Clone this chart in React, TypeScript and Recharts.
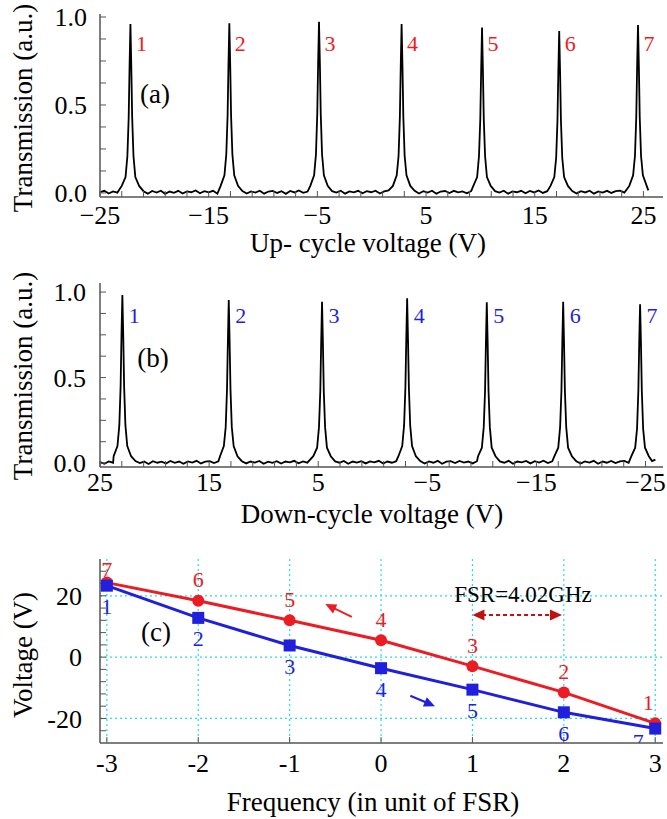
import React from 'react';
import { ComposedChart, LineChart, Line, Scatter, XAxis, YAxis, CartesianGrid, ReferenceLine } from 'recharts';

const FONT = 'Liberation Serif, "Liberation Serif", DejaVu Serif, "Noto Serif", Times New Roman, serif';
const RED = '#ec1c24';
const BLUE = '#1f1fdc';
const DARKRED = '#c01010';
const BOX = '#555555';

// ---------- Panel (a): up-cycle transmission trace [voltage, transmission] ----------
const upCycleTrace: [number, number][] = [
  [-25.0, 0.004], [-24.6, 0.012], [-24.2, -0.003], [-23.8, 0.009], [-23.4, 0.002],
  [-23.0, 0.04], [-22.65, 0.09], [-22.48, 0.21], [-22.36, 0.43], [-22.28, 0.72], [-22.2, 0.96], [-22.12, 0.72], [-22.04, 0.43], [-21.92, 0.21], [-21.75, 0.09], [-21.4, 0.04],
  [-21.0, 0.01], [-20.6, -0.004], [-20.2, 0.011], [-19.8, 0.002], [-19.4, 0.013], [-19.0, -0.005], [-18.6, 0.008], [-18.2, 0.001], [-17.8, 0.012], [-17.4, -0.003], [-17.0, 0.009], [-16.6, 0.004], [-16.2, 0.014], [-15.8, -0.002], [-15.4, 0.01], [-15.0, 0.003], [-14.6, 0.012], [-14.2, -0.004],
  [-13.9, 0.04], [-13.55, 0.1], [-13.38, 0.22], [-13.26, 0.44], [-13.18, 0.73], [-13.1, 0.964], [-13.02, 0.73], [-12.94, 0.44], [-12.82, 0.22], [-12.65, 0.1], [-12.3, 0.04],
  [-11.9, 0.011], [-11.5, -0.003], [-11.1, 0.009], [-10.7, 0.002], [-10.3, 0.013], [-9.9, -0.004], [-9.5, 0.008], [-9.1, 0.012], [-8.7, 0.0], [-8.3, 0.01], [-7.9, -0.005], [-7.5, 0.011], [-7.1, 0.003], [-6.7, 0.014], [-6.3, 0.001], [-5.9, 0.008],
  [-5.65, 0.04], [-5.3, 0.1], [-5.13, 0.22], [-5.01, 0.45], [-4.93, 0.74], [-4.85, 0.973], [-4.77, 0.74], [-4.69, 0.45], [-4.57, 0.22], [-4.4, 0.1], [-4.05, 0.04],
  [-3.65, 0.01], [-3.25, 0.002], [-2.85, 0.013], [-2.45, -0.004], [-2.05, 0.009], [-1.65, 0.003], [-1.25, 0.012], [-0.85, -0.002], [-0.45, 0.01], [-0.05, 0.004], [0.35, 0.013], [0.75, -0.003], [1.15, 0.009], [1.55, 0.014],
  [1.95, 0.04], [2.3, 0.1], [2.47, 0.21], [2.59, 0.43], [2.67, 0.72], [2.75, 0.96], [2.83, 0.72], [2.91, 0.43], [3.03, 0.21], [3.2, 0.1], [3.55, 0.04],
  [3.95, 0.012], [4.35, -0.003], [4.75, 0.01], [5.15, 0.002], [5.55, 0.013], [5.95, -0.004], [6.35, 0.008], [6.75, 0.011], [7.15, 0.0], [7.55, 0.012], [7.95, 0.003], [8.35, 0.009], [8.75, -0.002], [9.15, 0.011],
  [9.35, 0.04], [9.7, 0.09], [9.87, 0.21], [9.99, 0.42], [10.07, 0.7], [10.15, 0.94], [10.23, 0.7], [10.31, 0.42], [10.43, 0.21], [10.6, 0.09], [10.95, 0.04],
  [11.35, 0.01], [11.75, 0.002], [12.15, 0.013], [12.55, -0.004], [12.95, 0.009], [13.35, 0.004], [13.75, 0.012], [14.15, -0.002], [14.55, 0.011], [14.95, 0.003], [15.35, 0.014], [15.75, 0.0], [16.15, 0.01],
  [16.45, 0.04], [16.8, 0.09], [16.97, 0.2], [17.09, 0.41], [17.17, 0.69], [17.25, 0.92], [17.33, 0.69], [17.41, 0.41], [17.53, 0.2], [17.7, 0.09], [18.05, 0.04],
  [18.45, 0.011], [18.85, -0.003], [19.25, 0.01], [19.65, 0.003], [20.05, 0.013], [20.45, -0.004], [20.85, 0.009], [21.25, 0.002], [21.65, 0.012], [22.05, 0.0], [22.45, 0.01], [22.85, 0.013], [23.25, 0.002],
  [23.7, 0.04], [24.05, 0.1], [24.22, 0.21], [24.34, 0.43], [24.42, 0.72], [24.5, 0.954], [24.58, 0.72], [24.66, 0.43], [24.78, 0.21], [24.95, 0.1], [25.3, 0.04],
  [25.45, 0.015],
];
const upPeakVoltages = [-22.2, -13.1, -4.85, 2.75, 10.15, 17.25, 24.5];
const upPeakLabels = ['1', '2', '3', '4', '5', '6', '7'];

// ---------- Panel (b): down-cycle transmission trace [voltage, transmission] ----------
const downCycleTrace: [number, number][] = [
  [25.0, 0.006], [24.6, -0.004], [24.2, 0.01], [23.8, 0.002],
  [23.75, 0.04], [23.4, 0.1], [23.23, 0.22], [23.11, 0.45], [23.03, 0.75], [22.95, 0.982], [22.87, 0.75], [22.79, 0.45], [22.67, 0.22], [22.5, 0.1], [22.15, 0.04],
  [21.75, 0.012], [21.35, 0.0], [20.95, 0.009], [20.55, -0.005], [20.15, 0.011], [19.75, 0.002], [19.35, 0.008], [18.95, -0.003], [18.55, 0.012], [18.15, 0.001], [17.75, 0.009], [17.35, -0.004], [16.95, 0.01], [16.55, 0.003], [16.15, 0.013], [15.75, -0.002], [15.35, 0.008], [14.95, 0.011], [14.55, 0.0], [14.15, 0.01],
  [14.0, 0.04], [13.65, 0.1], [13.48, 0.21], [13.36, 0.43], [13.28, 0.71], [13.2, 0.953], [13.12, 0.71], [13.04, 0.43], [12.92, 0.21], [12.75, 0.1], [12.4, 0.04],
  [12.0, 0.011], [11.6, -0.002], [11.2, 0.009], [10.8, 0.003], [10.4, 0.012], [10.0, -0.004], [9.6, 0.008], [9.2, 0.001], [8.8, 0.011], [8.4, -0.003], [8.0, 0.009], [7.6, 0.004], [7.2, 0.013], [6.8, -0.001], [6.4, 0.01], [6.0, 0.002],
  [5.45, 0.04], [5.1, 0.09], [4.93, 0.21], [4.81, 0.42], [4.73, 0.7], [4.65, 0.943], [4.57, 0.7], [4.49, 0.42], [4.37, 0.21], [4.2, 0.09], [3.85, 0.04],
  [3.45, 0.01], [3.05, 0.002], [2.65, 0.012], [2.25, -0.004], [1.85, 0.009], [1.45, 0.003], [1.05, 0.011], [0.65, -0.002], [0.25, 0.01], [-0.15, 0.004], [-0.55, 0.013], [-0.95, -0.003], [-1.35, 0.009], [-1.75, 0.002], [-2.15, 0.011],
  [-2.35, 0.04], [-2.7, 0.1], [-2.87, 0.22], [-2.99, 0.44], [-3.07, 0.72], [-3.15, 0.963], [-3.23, 0.72], [-3.31, 0.44], [-3.43, 0.22], [-3.6, 0.1], [-3.95, 0.04],
  [-4.35, 0.012], [-4.75, -0.003], [-5.15, 0.01], [-5.55, 0.002], [-5.95, 0.013], [-6.35, -0.004], [-6.75, 0.008], [-7.15, 0.011], [-7.55, 0.0], [-7.95, 0.012], [-8.35, 0.003], [-8.75, 0.009], [-9.15, -0.002], [-9.55, 0.011],
  [-9.65, 0.04], [-10.0, 0.09], [-10.17, 0.21], [-10.29, 0.42], [-10.37, 0.7], [-10.45, 0.94], [-10.53, 0.7], [-10.61, 0.42], [-10.73, 0.21], [-10.9, 0.09], [-11.25, 0.04],
  [-11.65, 0.01], [-12.05, 0.002], [-12.45, 0.013], [-12.85, -0.004], [-13.25, 0.009], [-13.65, 0.004], [-14.05, 0.012], [-14.45, -0.002], [-14.85, 0.011], [-15.25, 0.003], [-15.65, 0.014], [-16.05, 0.0], [-16.45, 0.01],
  [-16.65, 0.04], [-17.0, 0.09], [-17.17, 0.21], [-17.29, 0.42], [-17.37, 0.7], [-17.45, 0.943], [-17.53, 0.7], [-17.61, 0.42], [-17.73, 0.21], [-17.9, 0.09], [-18.25, 0.04],
  [-18.65, 0.011], [-19.05, -0.003], [-19.45, 0.01], [-19.85, 0.003], [-20.25, 0.013], [-20.65, -0.004], [-21.05, 0.009], [-21.45, 0.002], [-21.85, 0.012], [-22.25, 0.0], [-22.65, 0.01], [-23.05, 0.013], [-23.45, 0.002],
  [-23.7, 0.04], [-24.05, 0.09], [-24.22, 0.2], [-24.34, 0.42], [-24.42, 0.7], [-24.5, 0.928], [-24.58, 0.7], [-24.66, 0.42], [-24.78, 0.2], [-24.95, 0.09], [-25.3, 0.04],
  [-25.6, 0.012], [-25.9, 0.02],
];
const downPeakVoltages = [22.95, 13.2, 4.65, -3.15, -10.45, -17.45, -24.5];
const downPeakLabels = ['1', '2', '3', '4', '5', '6', '7'];

// ---------- Panel (c): voltage vs frequency ----------
const frequencies = [-3, -2, -1, 0, 1, 2, 3];
const upCycleVoltages = [24.3, 18.4, 12.0, 5.5, -2.95, -11.5, -21.6];
const upCycleOrder = ['7', '6', '5', '4', '3', '2', '1'];
const downCycleVoltages = [23.3, 12.8, 3.8, -3.6, -10.6, -18.0, -23.3];
const downCycleOrder = ['1', '2', '3', '4', '5', '6', '7'];

// ---------- Tick values ----------
const voltageTicks = [-25, -23, -21, -19, -17, -15, -13, -11, -9, -7, -5, -3, -1, 1, 3, 5, 7, 9, 11, 13, 15, 17, 19, 21, 23, 25];
const voltageMajor = [-25, -15, -5, 5, 15, 25];
const transmissionTicks = [0, 0.125, 0.25, 0.375, 0.5, 0.625, 0.75, 0.875, 1];
const transmissionMajor = [0, 0.5, 1];
const freqTicks = [-3, -2, -1, 0, 1, 2, 3];
const voltTicksC = [-24, -20, -16, -12, -8, -4, 0, 4, 8, 12, 16, 20, 24, 28];
const voltMajorC = [-20, 0, 20];

const upData = upCycleTrace.map(([v, t]) => ({ v, t }));
const downData = downCycleTrace.map(([v, t]) => ({ v, t }));
const upPeaks = upPeakVoltages.map((v, i) => ({ v, t: 0.852, n: upPeakLabels[i] }));
const downPeaks = downPeakVoltages.map((v, i) => ({ v, t: 0.865, n: downPeakLabels[i] }));
const cData = frequencies.map((f, i) => ({
  f, up: upCycleVoltages[i], down: downCycleVoltages[i], upN: upCycleOrder[i], downN: downCycleOrder[i],
}));

const fmtVoltage = (v: number) => (voltageMajor.includes(v) ? (v < 0 ? '\u2212' + Math.abs(v) : String(v)) : '');
const fmtTrans = (v: number) => (transmissionMajor.includes(v) ? v.toFixed(1) : '');
const fmtVoltC = (v: number) => (voltMajorC.includes(v) ? String(v) : '');
const empty = () => '';

const tickStyle = { fontSize: 26, fill: '#000', fontFamily: FONT };
const axisLine = { stroke: BOX, strokeWidth: 1.5 };
const tickLine = { stroke: BOX, strokeWidth: 1 };

const peakLabel = (color: string, dx: number) => (p: any) => (
  <text x={p.cx + dx} y={p.cy} fill={color} fontSize={22} fontFamily={FONT} textAnchor="middle" dominantBaseline="central">
    {p.payload.n}
  </text>
);

const arrowHead = (x: number, y: number, ang: number, L: number, W: number, color: string, key: string) => {
  const bx = x - L * Math.cos(ang);
  const by = y - L * Math.sin(ang);
  const px = (W / 2) * -Math.sin(ang);
  const py = (W / 2) * Math.cos(ang);
  return <polygon key={key} points={`${x},${y} ${bx + px},${by + py} ${bx - px},${by - py}`} fill={color} />;
};

const arrowShape = (color: string, dashed: boolean, both: boolean) => (p: any) => {
  const { x1, y1, x2, y2 } = p;
  const ang = Math.atan2(y2 - y1, x2 - x1);
  const L = both ? 12 : 11;
  const W = both ? 11 : 10;
  return (
    <g>
      <line
        x1={both ? x1 + L * 0.8 * Math.cos(ang) : x1}
        y1={both ? y1 + L * 0.8 * Math.sin(ang) : y1}
        x2={x2 - L * 0.8 * Math.cos(ang)}
        y2={y2 - L * 0.8 * Math.sin(ang)}
        stroke={color}
        strokeWidth={2}
        strokeDasharray={dashed ? '4 3' : undefined}
      />
      {arrowHead(x2, y2, ang, L, W, color, 'h2')}
      {both ? arrowHead(x1, y1, ang + Math.PI, L, W, color, 'h1') : null}
    </g>
  );
};

const redDot = (p: any) => {
  const last = p.index === frequencies.length - 1;
  const first = p.index === 0;
  return (
    <g key={`rd-${p.index}`}>
      <circle cx={p.cx} cy={p.cy} r={6} fill={RED} />
      <text x={p.cx + (last ? -7 : 0)} y={p.cy + (first ? -13 : -21)} fill={RED} fontSize={22} fontFamily={FONT} textAnchor="middle" dominantBaseline="central">
        {p.payload.upN}
      </text>
    </g>
  );
};

const blueDot = (p: any) => {
  const last = p.index === frequencies.length - 1;
  return (
    <g key={`bd-${p.index}`}>
      <rect x={p.cx - 6} y={p.cy - 6} width={12} height={12} fill={BLUE} />
      <text x={p.cx + (last ? -17 : 0)} y={p.cy + (last ? 13 : 21)} fill={BLUE} fontSize={22} fontFamily={FONT} textAnchor="middle" dominantBaseline="central">
        {p.payload.downN}
      </text>
    </g>
  );
};

export default function App() {
  return (
    <div style={{ position: 'absolute', left: 0, top: 0, width: 667, height: 819, background: '#fff', fontFamily: FONT }}>
      {/* Panel (a) */}
      <div style={{ position: 'absolute', left: 0, top: 0 }}>
        <ComposedChart width={667} height={232} margin={{ top: 14, right: 4, bottom: 5, left: 0 }}>
          <XAxis xAxisId="b" dataKey="v" type="number" domain={[-25, 26.8]} allowDataOverflow ticks={voltageTicks} interval={0}
            tickFormatter={fmtVoltage} tick={tickStyle} tickSize={-6} tickMargin={15} height={30} axisLine={axisLine} tickLine={tickLine} />
          <XAxis xAxisId="t" orientation="top" dataKey="v" type="number" domain={[-25, 26.8]} allowDataOverflow ticks={voltageTicks} interval={0}
            tickFormatter={empty} tickSize={-6} height={0} axisLine={axisLine} tickLine={tickLine} />
          <YAxis yAxisId="l" dataKey="t" type="number" domain={[-0.023, 1.017]} allowDataOverflow ticks={transmissionTicks} interval={0}
            tickFormatter={fmtTrans} tick={tickStyle} tickSize={-6} tickMargin={19} width={100} axisLine={axisLine} tickLine={tickLine} />
          <YAxis yAxisId="r" orientation="right" dataKey="t" type="number" domain={[-0.023, 1.017]} allowDataOverflow ticks={transmissionTicks} interval={0}
            tickFormatter={empty} tickSize={-6} width={0} axisLine={axisLine} tickLine={tickLine} />
          <Line xAxisId="b" yAxisId="l" data={upData} dataKey="t" type="linear" stroke="#000" strokeWidth={1.8} dot={false} isAnimationActive={false} />
          <Scatter xAxisId="b" yAxisId="l" data={upPeaks} dataKey="t" shape={peakLabel(RED, 11)} isAnimationActive={false} />
        </ComposedChart>
      </div>

      {/* Panel (b) */}
      <div style={{ position: 'absolute', left: 0, top: 260 }}>
        <ComposedChart width={667} height={240} margin={{ top: 23, right: 4, bottom: 3, left: 0 }}>
          <XAxis xAxisId="b" dataKey="v" type="number" domain={[-26.6, 25]} reversed allowDataOverflow ticks={voltageTicks} interval={0}
            tickFormatter={fmtVoltage} tick={tickStyle} tickSize={-6} tickMargin={12} height={30} axisLine={axisLine} tickLine={tickLine} />
          <XAxis xAxisId="t" orientation="top" dataKey="v" type="number" domain={[-26.6, 25]} reversed allowDataOverflow ticks={voltageTicks} interval={0}
            tickFormatter={empty} tickSize={-6} height={0} axisLine={axisLine} tickLine={tickLine} />
          <YAxis yAxisId="l" dataKey="t" type="number" domain={[-0.023, 1.053]} allowDataOverflow ticks={transmissionTicks} interval={0}
            tickFormatter={fmtTrans} tick={tickStyle} tickSize={-6} tickMargin={20} width={100} axisLine={axisLine} tickLine={tickLine} />
          <YAxis yAxisId="r" orientation="right" dataKey="t" type="number" domain={[-0.023, 1.053]} allowDataOverflow ticks={transmissionTicks} interval={0}
            tickFormatter={empty} tickSize={-6} width={0} axisLine={axisLine} tickLine={tickLine} />
          <Line xAxisId="b" yAxisId="l" data={downData} dataKey="t" type="linear" stroke="#000" strokeWidth={1.8} dot={false} isAnimationActive={false} />
          <Scatter xAxisId="b" yAxisId="l" data={downPeaks} dataKey="t" shape={peakLabel(BLUE, 12)} isAnimationActive={false} />
        </ComposedChart>
      </div>

      {/* Panel (c) */}
      <div style={{ position: 'absolute', left: 0, top: 530 }}>
        <LineChart width={667} height={250} data={cData} margin={{ top: 29, right: 4, bottom: 3, left: 0 }}>
          <CartesianGrid xAxisId="b" yAxisId="l" stroke="#22ddf0" strokeWidth={1.2} strokeDasharray="2 3"
            horizontalValues={voltMajorC} verticalValues={freqTicks} />
          <XAxis xAxisId="b" dataKey="f" type="number" domain={[-3.075, 3.085]} allowDataOverflow ticks={freqTicks} interval={0}
            tick={tickStyle} tickSize={-6} tickMargin={17} height={34} axisLine={axisLine} tickLine={tickLine} />
          <XAxis xAxisId="t" orientation="top" dataKey="f" type="number" domain={[-3.075, 3.085]} allowDataOverflow ticks={freqTicks} interval={0}
            tickFormatter={empty} tickSize={-6} height={0} axisLine={axisLine} tickLine={tickLine} />
          <YAxis yAxisId="l" type="number" domain={[-28, 32]} allowDataOverflow ticks={voltTicksC} interval={0}
            tickFormatter={fmtVoltC} tick={tickStyle} tickSize={-6} tickMargin={24} width={100} axisLine={axisLine} tickLine={tickLine} />
          <YAxis yAxisId="r" orientation="right" type="number" domain={[-28, 32]} allowDataOverflow ticks={voltTicksC} interval={0}
            tickFormatter={empty} tickSize={-6} width={0} axisLine={axisLine} tickLine={tickLine} />
          <ReferenceLine xAxisId="b" yAxisId="l" segment={[{ x: -0.32, y: 13.1 }, { x: -0.61, y: 17.3 }]} shape={arrowShape(RED, false, false)} ifOverflow="visible" />
          <ReferenceLine xAxisId="b" yAxisId="l" segment={[{ x: 0.32, y: -12.6 }, { x: 0.59, y: -16.0 }]} shape={arrowShape(BLUE, false, false)} ifOverflow="visible" />
          <ReferenceLine xAxisId="b" yAxisId="l" segment={[{ x: 1.0, y: 13.7 }, { x: 1.98, y: 13.7 }]} shape={arrowShape(DARKRED, true, true)} ifOverflow="visible" />
          <Line xAxisId="b" yAxisId="l" dataKey="up" type="linear" stroke={RED} strokeWidth={3} dot={redDot} isAnimationActive={false} />
          <Line xAxisId="b" yAxisId="l" dataKey="down" type="linear" stroke={BLUE} strokeWidth={3} dot={blueDot} isAnimationActive={false} />
        </LineChart>
      </div>

      {/* Text overlay: axis titles and panel tags */}
      <svg width={667} height={819} style={{ position: 'absolute', left: 0, top: 0, pointerEvents: 'none' }}>
        <g fontFamily={FONT} fill="#000">
          <text x={0} y={0} fontSize={27} textAnchor="middle" dominantBaseline="central" transform="translate(23,108) rotate(-90)">Transmission (a.u.)</text>
          <text x={155} y={94} fontSize={27} textAnchor="middle" dominantBaseline="central">(a)</text>
          <text x={368} y={243} fontSize={27} textAnchor="middle" dominantBaseline="central">Up- cycle voltage (V)</text>

          <text x={0} y={0} fontSize={27} textAnchor="middle" dominantBaseline="central" transform="translate(23,376) rotate(-90)">Transmission (a.u.)</text>
          <text x={153} y={358} fontSize={27} textAnchor="middle" dominantBaseline="central">(b)</text>
          <text x={372} y={514} fontSize={27} textAnchor="middle" dominantBaseline="central">Down-cycle voltage (V)</text>

          <text x={0} y={0} fontSize={27} textAnchor="middle" dominantBaseline="central" transform="translate(23,655) rotate(-90)">Voltage (V)</text>
          <text x={156} y={632} fontSize={27} textAnchor="middle" dominantBaseline="central">(c)</text>
          <text x={373} y={802} fontSize={27} textAnchor="middle" dominantBaseline="central">Frequency (in unit of FSR)</text>
          <text x={523} y={594} fontSize={23} textAnchor="middle" dominantBaseline="central">FSR=4.02GHz</text>
        </g>
      </svg>
    </div>
  );
}
